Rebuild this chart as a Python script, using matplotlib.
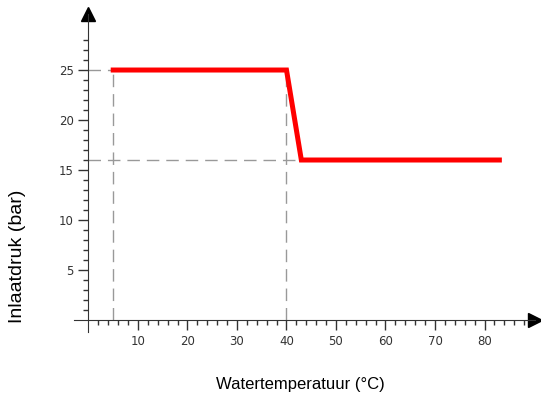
import matplotlib.pyplot as plt

# inlet pressure vs water temperature
temp = [5, 40, 43, 83]
druk = [25, 25, 16, 16]
x_ticks = [10, 20, 30, 40, 50, 60, 70, 80]
y_ticks = [5, 10, 15, 20, 25]

fig = plt.figure(figsize=(5.41, 4.03), dpi=100)
ax = fig.add_axes([0.1361, 0.1762, 0.8528, 0.789])
ax.set_xlim(-3, 90.2)
ax.set_ylim(-1.2, 30.6)

ax.spines['left'].set_position(('data', 0))
ax.spines['bottom'].set_position(('data', 0))
ax.spines['top'].set_visible(False)
ax.spines['right'].set_visible(False)
ax.spines['left'].set_color('#333333')
ax.spines['bottom'].set_color('#333333')

ax.plot(1, 0, '>', color='black', ms=10, transform=ax.get_yaxis_transform(), clip_on=False)
ax.plot(0, 1, '^', color='black', ms=10, transform=ax.get_xaxis_transform(), clip_on=False)

ax.set_xticks(x_ticks)
ax.set_yticks(y_ticks)
ax.set_xticks(range(2, 89, 2), minor=True)
ax.set_yticks(range(1, 29), minor=True)
ax.tick_params(which='major', direction='out', length=7, width=1, color='#333333',
               labelsize=8.5, labelcolor='#333333')
ax.tick_params(which='minor', direction='out', length=3.5, width=1, color='#333333')

# guide lines
dash = dict(color='#999999', lw=1, dashes=(9, 5))
ax.plot([0, 5], [25, 25], **dash)
ax.plot([5, 5], [0, 25], **dash)
ax.plot([40, 40], [0, 25], **dash)
ax.plot([0, 43], [16, 16], **dash)

ax.plot(temp, druk, color='#ff0000', lw=3.6, solid_joinstyle='miter')

fig.text(0.555, 0.045, 'Watertemperatuur (°C)', ha='center', va='center',
         fontsize=12, family='Liberation Sans')
fig.text(0.032, 0.365, 'Inlaatdruk (bar)', ha='center', va='center', rotation=90,
         fontsize=14, family='Liberation Sans')

fig.savefig('out.png', dpi=100)
